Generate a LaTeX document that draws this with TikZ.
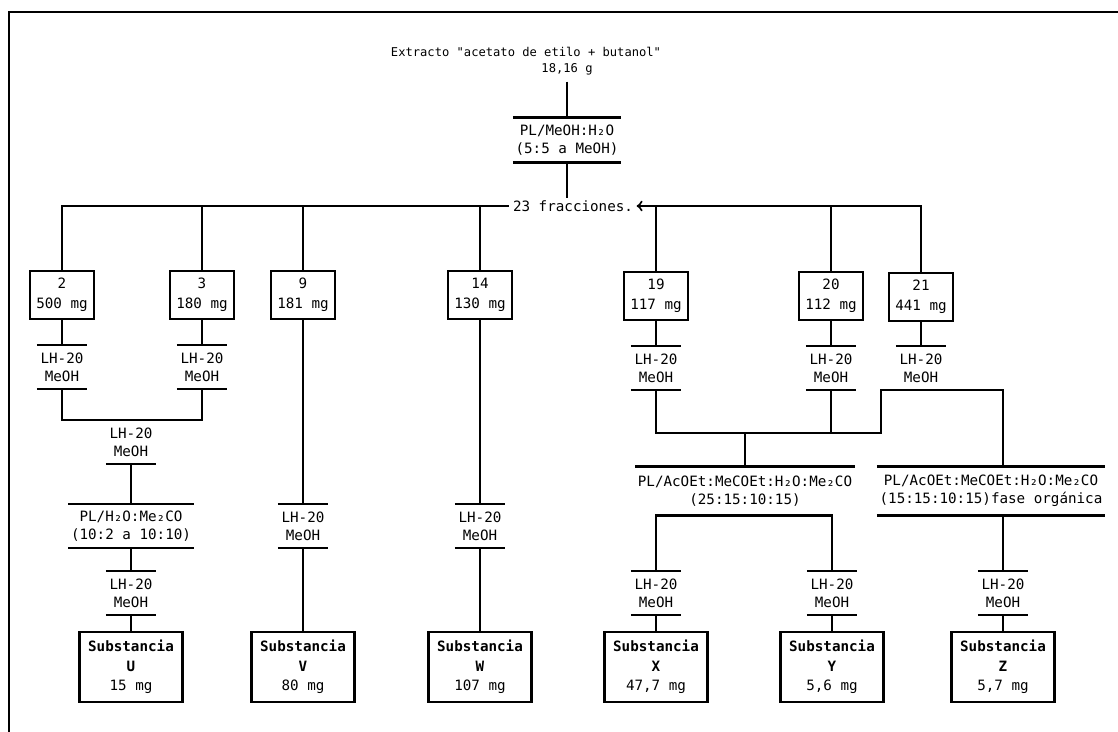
\documentclass[tikz,border=0pt]{standalone}
\usepackage{fontspec}
\newfontfamily\monofam{DejaVu Sans Mono}
\newcommand\chemtxt{\monofam\fontsize{8.1}{10.2}\selectfont}
\newcommand\chembox{\monofam\fontsize{8.1}{11.2}\selectfont}
\newcommand\chemhead{\monofam\fontsize{6.9}{8.6}\selectfont}
\begin{document}
\begin{tikzpicture}[x=0.02cm, y=-0.02cm, line width=1.2pt,
  bar/.style={line width=1.5pt},
  topbar/.style={append after command={(\tikzlastnode.north west) edge[bar] (\tikzlastnode.north east)}},
  botbar/.style={append after command={(\tikzlastnode.south west) edge[bar] (\tikzlastnode.south east)}},
  colsep/.style={font=\chemtxt, align=center, inner xsep=1pt, inner ysep=0pt, minimum width=0.96cm, minimum height=0.84cm},
  frac/.style={draw, font=\chembox, align=center, inner sep=1pt, minimum width=1.28cm, minimum height=0.96cm},
  prod/.style={draw, font=\chembox, align=center, inner sep=1pt, minimum width=2.06cm, minimum height=1.4cm}]
\useasboundingbox (0,0) rectangle (1118,732);
\draw[line width=1.6pt] (1118,12) -- (9,12) -- (9,732);

\node[font=\chemhead] (src) at (526,52) {Extracto "acetato de etilo + butanol"};
\node[font=\chemhead] (mass) at (567,69) {18,16 g};
\node[colsep, topbar, botbar, minimum width=2.08cm, minimum height=0.86cm] (pl1) at (567,140) {PL/MeOH:H₂O\\(5:5 a MeOH)};
\node[font=\chemtxt, inner xsep=1.5pt, inner ysep=1pt] (fr) at (573,206) {23 fracciones.};

% fracciones
\node[frac] (f2) at (62,295) {2\\500 mg};
\node[frac] (f3) at (202,295) {3\\180 mg};
\node[frac] (f9) at (303,295) {9\\181 mg};
\node[frac] (f14) at (480,295) {14\\130 mg};
\node[frac] (f19) at (656,296) {19\\117 mg};
\node[frac] (f20) at (831,296) {20\\112 mg};
\node[frac] (f21) at (921,297) {21\\441 mg};

% columnas
\node[colsep, topbar, botbar] (s2) at (62,367) {LH-20\\MeOH};
\node[colsep, topbar, botbar] (s3) at (202,367) {LH-20\\MeOH};
\node[colsep, botbar] (m1) at (131,442) {LH-20\\MeOH};
\node[colsep, topbar, botbar, minimum width=2.12cm] (pl2) at (131,526) {PL/H₂O:Me₂CO\\(10:2 a 10:10)};
\node[colsep, topbar, botbar] (s4) at (131,593) {LH-20\\MeOH};
\node[colsep, topbar, botbar] (s9) at (303,526) {LH-20\\MeOH};
\node[colsep, topbar, botbar] (s14) at (480,526) {LH-20\\MeOH};
\node[colsep, topbar, botbar] (s19) at (656,368) {LH-20\\MeOH};
\node[colsep, topbar, botbar] (s20) at (831,368) {LH-20\\MeOH};
\node[colsep, topbar] (s21) at (921,368) {LH-20\\MeOH};
\node[colsep, topbar, minimum width=4.32cm, minimum height=0.94cm] (pl3) at (745,491) {PL/AcOEt:MeCOEt:H₂O:Me₂CO\\(25:15:10:15)};
\node[colsep, topbar, botbar, minimum width=4.46cm, minimum height=0.94cm] (pl4) at (991,491) {PL/AcOEt:MeCOEt:H₂O:Me₂CO\\(15:15:10:15)fase orgánica};
\node[colsep, topbar, botbar] (sx) at (656,593) {LH-20\\MeOH};
\node[colsep, topbar, botbar] (sy) at (832,593) {LH-20\\MeOH};
\node[colsep, topbar, botbar] (sz) at (1003,593) {LH-20\\MeOH};

% substancias
\node[prod] (pu) at (131,667) {\textbf{Substancia}\\\textbf{U}\\15 mg};
\node[prod] (pv) at (303,667) {\textbf{Substancia}\\\textbf{V}\\80 mg};
\node[prod] (pw) at (480,667) {\textbf{Substancia}\\\textbf{W}\\107 mg};
\node[prod] (px) at (656,667) {\textbf{Substancia}\\\textbf{X}\\47,7 mg};
\node[prod] (py) at (832,667) {\textbf{Substancia}\\\textbf{Y}\\5,6 mg};
\node[prod] (pz) at (1003,667) {\textbf{Substancia}\\\textbf{Z}\\5,7 mg};

\coordinate (j1) at (745,433);
\coordinate (j2) at (881,433);
\coordinate (zc) at (1003,468);

\draw (mass) -- (pl1);
\draw (pl1) -- (pl1 |- fr.north);
\draw (f2) |- (fr);
\draw (f3) -- (f3 |- fr);
\draw (f9) -- (f9 |- fr);
\draw (f14) -- (f14 |- fr);
\draw[<-] (fr) -| (f21);
\draw (f19) -- (f19 |- fr);
\draw (f20) -- (f20 |- fr);

\draw (f2) -- (s2);
\draw (f3) -- (s3);
\draw (s2) |- (m1.north) -| (s3);
\draw (m1) -- (pl2);
\draw (pl2) -- (s4);
\draw (s4) -- (pu);
\draw (f9) -- (s9);
\draw (s9) -- (pv);
\draw (f14) -- (s14);
\draw (s14) -- (pw);

\draw (f19) -- (s19);
\draw (f20) -- (s20);
\draw (f21) -- (s21);
\draw (s19) |- (j2) |- (s21.south) -| (zc);
\draw (s20) -- (s20 |- j1);
\draw (j1) -- (pl3);
\draw (sx) |- (pl3.south) -| (sy);
\draw (pl4.south -| sz) -- (sz);
\draw (sx) -- (px);
\draw (sy) -- (py);
\draw (sz) -- (pz);
\end{tikzpicture}
\end{document}
